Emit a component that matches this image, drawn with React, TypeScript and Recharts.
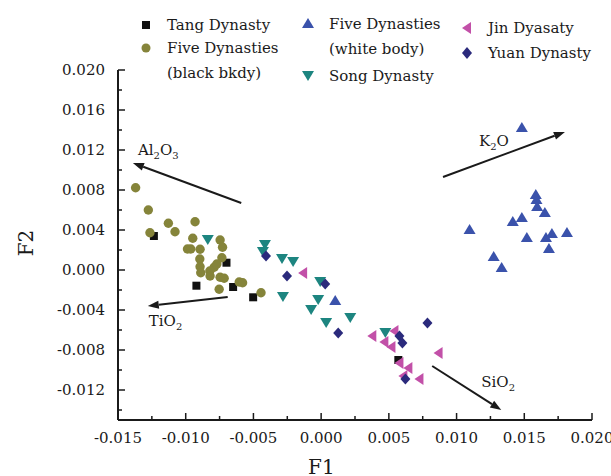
import React from 'react'
import { ScatterChart, Scatter, XAxis, YAxis, ReferenceLine } from 'recharts'

// F1 / F2 scores per group
const tang: [number, number][] = [
  [-0.01235, 0.0034], [-0.00699, 0.00073], [-0.00921, -0.00157],
  [-0.0065, -0.0017], [-0.00502, -0.00273], [0.0057, -0.009],
]

const fiveBlack: [number, number][] = [
  [-0.0137, 0.00823], [-0.01276, 0.006], [-0.01264, 0.00373], [-0.01128, 0.00467],
  [-0.01079, 0.00383], [-0.00931, 0.00483], [-0.00948, 0.00317], [-0.00987, 0.0021],
  [-0.00963, 0.0021], [-0.00894, 0.00207], [-0.00746, 0.003], [-0.00728, 0.00227],
  [-0.00896, 0.0011], [-0.00733, 0.00123], [-0.00894, 0.00033], [-0.00889, -0.00027],
  [-0.0079, 0.00027], [-0.0077, 0.0006], [-0.00822, -0.0001], [-0.0082, -0.0006],
  [-0.00746, -0.00073], [-0.00716, -0.00083], [-0.00605, -0.0012], [-0.0058, -0.00127],
  [-0.00753, -0.00193], [-0.00444, -0.00227],
]

const fiveWhite: [number, number][] = [
  [0.00104, -0.0031], [0.01482, 0.0142], [0.01096, 0.004], [0.01415, 0.0048],
  [0.01482, 0.0052], [0.01585, 0.0075], [0.0159, 0.007], [0.01595, 0.0063],
  [0.01652, 0.0057], [0.01519, 0.0032], [0.0166, 0.0032], [0.01704, 0.0036],
  [0.01815, 0.0037], [0.01682, 0.0021], [0.01274, 0.0013], [0.01333, 0.0002],
]

const song: [number, number][] = [
  [-0.00837, 0.0031], [-0.00415, 0.0026], [-0.0043, 0.0019], [-0.00289, 0.0012],
  [-0.00207, 0.0009], [-0.00282, -0.0026], [-0.00007, -0.0011], [-0.00022, -0.0029],
  [-0.00074, -0.0039], [0.00037, -0.0052], [0.00215, -0.0047], [0.00474, -0.0062],
]

const jin: [number, number][] = [
  [-0.00133, -0.0003], [0.00378, -0.0066], [0.00467, -0.0072], [0.00519, -0.0077],
  [0.00541, -0.0061], [0.00867, -0.0083], [0.00578, -0.0093], [0.00644, -0.0098],
  [0.00607, -0.0106], [0.00726, -0.0109],
]

const yuan: [number, number][] = [
  [-0.00407, 0.0014], [-0.00252, -0.0006], [0.0003, -0.0014], [0.00126, -0.0063],
  [0.00578, -0.0066], [0.006, -0.0073], [0.00785, -0.0053], [0.00622, -0.0109],
]

// loading vectors (start -> arrow head)
const arrowNames = ['Al2O3', 'TiO2', 'K2O', 'SiO2']
const arrowFrom: [number, number][] = [[-0.0059, 0.0067], [-0.0069, -0.0027], [0.009, 0.0093], [0.0082, -0.0096]]
const arrowTo: [number, number][] = [[-0.0139, 0.0107], [-0.0128, -0.0036], [0.018, 0.0138], [0.0133, -0.014]]

const xTicks = [-0.015, -0.0125, -0.01, -0.0075, -0.005, -0.0025, 0, 0.0025, 0.005, 0.0075, 0.01, 0.0125, 0.015, 0.0175, 0.02]
const yTicks = [-0.014, -0.012, -0.01, -0.008, -0.006, -0.004, -0.002, 0, 0.002, 0.004, 0.006, 0.008, 0.01, 0.012, 0.014, 0.016, 0.018, 0.02]

const FONT = '"DejaVu Serif", serif'
const INK = '#1a1a1a'
const C = {
  tang: '#111111',
  fiveBlack: '#85843a',
  fiveWhite: '#3a52ab',
  song: '#1d8580',
  jin: '#c250a8',
  yuan: '#2b2a7c',
}

const toPts = (arr: [number, number][]) => arr.map(([x, y]) => ({ x, y }))

// marker shapes
const Square = (p: any) => <rect x={p.cx - 4} y={p.cy - 4} width={8} height={8} fill={C.tang} />
const Dot = (p: any) => <circle cx={p.cx} cy={p.cy} r={4.7} fill={C.fiveBlack} />
const TriUp = (p: any) => (
  <polygon points={`${p.cx},${p.cy - 6} ${p.cx - 6},${p.cy + 4} ${p.cx + 6},${p.cy + 4}`} fill={C.fiveWhite} />
)
const TriDown = (p: any) => (
  <polygon points={`${p.cx - 6},${p.cy - 4} ${p.cx + 6},${p.cy - 4} ${p.cx},${p.cy + 6}`} fill={C.song} />
)
const TriLeft = (p: any) => (
  <polygon points={`${p.cx - 5},${p.cy} ${p.cx + 4},${p.cy - 6} ${p.cx + 4},${p.cy + 6}`} fill={C.jin} />
)
const Diamond = (p: any) => (
  <polygon points={`${p.cx},${p.cy - 5.5} ${p.cx + 5},${p.cy} ${p.cx},${p.cy + 5.5} ${p.cx - 5},${p.cy}`} fill={C.yuan} />
)

const XTick = (props: any) => {
  const { x, y, payload } = props
  const v = payload.value
  const major = Math.round(v * 10000) % 50 === 0
  return (
    <g>
      <line x1={x} x2={x} y1={y} y2={y - (major ? 7 : 4)} stroke={INK} strokeWidth={1.5} />
      {major && (
        <text x={x} y={y + 23} textAnchor="middle" fontFamily={FONT} fontSize={15} fill={INK}>
          {v.toFixed(3)}
        </text>
      )}
    </g>
  )
}

const YTick = (props: any) => {
  const { x, y, payload } = props
  const v = payload.value
  const major = Math.round(v * 1000) % 4 === 0
  return (
    <g>
      <line x1={x} x2={x + (major ? 7 : 4)} y1={y} y2={y} stroke={INK} strokeWidth={1.5} />
      {major && (
        <text x={x - 13} y={y + 5} textAnchor="end" fontFamily={FONT} fontSize={15} fill={INK}>
          {v.toFixed(3)}
        </text>
      )}
    </g>
  )
}

// label offsets from arrow head, px
const labelOffset: [number, number][] = [[5, -8], [1, 20], [-86, 14], [-20, -23]]

const Formula = ({ name, x, y }: { name: string; x: number; y: number }) => {
  const parts = name.match(/[A-Za-z]+|\d+/g) || []
  return (
    <text x={x} y={y} fontFamily={FONT} fontSize={15} fill={INK}>
      {parts.map((s, i) =>
        /\d/.test(s) ? (
          <tspan key={i} fontSize={10} dy={4}>{s}</tspan>
        ) : (
          <tspan key={i} dy={i > 0 ? -4 : 0}>{s}</tspan>
        )
      )}
    </text>
  )
}

const makeArrow = (i: number) => (p: any) => {
  const { x1, y1, x2, y2 } = p
  const a = Math.atan2(y2 - y1, x2 - x1)
  const L = 11, W = 4
  const bx = x2 - L * Math.cos(a), by = y2 - L * Math.sin(a)
  const head = `${x2},${y2} ${bx + W * Math.sin(a)},${by - W * Math.cos(a)} ${bx - W * Math.sin(a)},${by + W * Math.cos(a)}`
  return (
    <g>
      <line x1={x1} y1={y1} x2={bx} y2={by} stroke={INK} strokeWidth={2} />
      <polygon points={head} fill={INK} />
      <Formula name={arrowNames[i]} x={x2 + labelOffset[i][0]} y={y2 + labelOffset[i][1]} />
    </g>
  )
}

const LegendMark = ({ kind, color }: { kind: string; color: string }) => {
  const c = 6
  let el: React.ReactNode = null
  if (kind === 'square') el = <rect x={2} y={2} width={8} height={8} fill={color} />
  if (kind === 'circle') el = <circle cx={c} cy={c} r={4.5} fill={color} />
  if (kind === 'up') el = <polygon points={`6,0 0,10 12,10`} fill={color} />
  if (kind === 'down') el = <polygon points={`0,1 12,1 6,11`} fill={color} />
  if (kind === 'left') el = <polygon points={`1,6 10,0 10,12`} fill={color} />
  if (kind === 'diamond') el = <polygon points={`6,0 11,6 6,12 1,6`} fill={color} />
  return <svg width={12} height={12} style={{ position: 'absolute', left: -6, top: -6 }}>{el}</svg>
}

const legendItems = [
  { kind: 'square', color: C.tang, mx: 146, my: 25, lines: ['Tang Dynasty'] },
  { kind: 'circle', color: C.fiveBlack, mx: 146, my: 48, lines: ['Five Dynasties', '(black bkdy)'] },
  { kind: 'up', color: C.fiveWhite, mx: 308, my: 24, lines: ['Five Dynasties', '(white body)'] },
  { kind: 'down', color: C.song, mx: 308, my: 76, lines: ['Song Dynasty'] },
  { kind: 'left', color: C.jin, mx: 467, my: 28, lines: ['Jin Dyasaty'] },
  { kind: 'diamond', color: C.yuan, mx: 467, my: 53, lines: ['Yuan Dynasty'] },
]

export default function App() {
  const series = [
    { name: 'Tang Dynasty', data: tang, shape: Square },
    { name: 'Five Dynasties (black bkdy)', data: fiveBlack, shape: Dot },
    { name: 'Five Dynasties (white body)', data: fiveWhite, shape: TriUp },
    { name: 'Song Dynasty', data: song, shape: TriDown },
    { name: 'Jin Dyasaty', data: jin, shape: TriLeft },
    { name: 'Yuan Dynasty', data: yuan, shape: Diamond },
  ]

  return (
    <div style={{ position: 'absolute', left: 0, top: 0, width: 611, height: 476, background: '#fff', overflow: 'hidden' }}>
      <ScatterChart width={611} height={476} margin={{ top: 70, right: 19, bottom: 0, left: 58 }}>
        <XAxis
          type="number"
          dataKey="x"
          domain={[-0.015, 0.02]}
          ticks={xTicks}
          interval={0}
          height={56}
          tickSize={0}
          tickMargin={0}
          tick={<XTick />}
          axisLine={{ stroke: INK, strokeWidth: 2 }}
          allowDataOverflow
        />
        <YAxis
          type="number"
          dataKey="y"
          domain={[-0.015, 0.02]}
          ticks={yTicks}
          interval={0}
          width={60}
          tickSize={0}
          tickMargin={0}
          tick={<YTick />}
          axisLine={{ stroke: INK, strokeWidth: 2 }}
          allowDataOverflow
        />
        {arrowFrom.map((f, i) => (
          <ReferenceLine
            key={arrowNames[i]}
            segment={[{ x: f[0], y: f[1] }, { x: arrowTo[i][0], y: arrowTo[i][1] }]}
            ifOverflow="visible"
            shape={makeArrow(i)}
          />
        ))}
        {series.map(s => (
          <Scatter key={s.name} name={s.name} data={toPts(s.data)} shape={s.shape} isAnimationActive={false} />
        ))}
      </ScatterChart>

      {/* legend */}
      {legendItems.map((it, i) => (
        <div key={i} style={{ position: 'absolute', left: it.mx, top: it.my }}>
          <LegendMark kind={it.kind} color={it.color} />
          {it.lines.map((t, j) => (
            <div
              key={j}
              style={{
                position: 'absolute',
                left: 21,
                top: -10 + j * 25,
                whiteSpace: 'nowrap',
                fontFamily: FONT,
                fontSize: 15,
                lineHeight: '20px',
                color: INK,
              }}
            >
              {t}
            </div>
          ))}
        </div>
      ))}

      {/* axis titles */}
      <div style={{ position: 'absolute', left: 308, top: 455, fontFamily: FONT, fontSize: 20, color: INK }}>F1</div>
      <div
        style={{
          position: 'absolute',
          left: 26,
          top: 243,
          transform: 'translate(-50%, -50%) rotate(-90deg)',
          fontFamily: FONT,
          fontSize: 20,
          color: INK,
        }}
      >
        F2
      </div>
    </div>
  )
}
